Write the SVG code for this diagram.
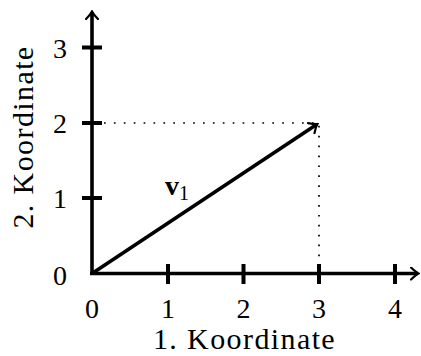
<svg xmlns="http://www.w3.org/2000/svg" width="421" height="356" viewBox="0 0 421 356">
<style>
.t{font-family:"Liberation Serif","DejaVu Serif",serif;font-size:28px;fill:#000;text-anchor:middle}
.ti{font-size:30px;letter-spacing:1.4px}
.ax{stroke:#000;stroke-width:3.6;fill:none}
.tk{stroke:#000;stroke-width:4;fill:none}
.dot{stroke:#000;stroke-width:1.7;fill:none;stroke-dasharray:1.7 8.2}
</style>
<defs>
<marker id="to" viewBox="-8 -7 10 14" markerWidth="10" markerHeight="14" refX="0" refY="0" orient="auto" markerUnits="userSpaceOnUse">
<path d="M-7,-6 Q-2,-1.2 0.5,0 Q-2,1.2 -7,6" stroke="#000" stroke-width="2.2" fill="none" stroke-linecap="round"/>
</marker>
</defs>
<rect width="421" height="356" fill="#fff"/>
<g id="connectors">
<path class="dot" d="M104,123 H319 V268"/>
<line class="ax" x1="90" y1="273.5" x2="418" y2="273.5" marker-end="url(#to)"/>
<line class="ax" x1="92" y1="275" x2="92" y2="12" marker-end="url(#to)"/>
<line class="ax" x1="92" y1="273.5" x2="317" y2="124.3" marker-end="url(#to)"/>
</g>
<g id="ticks">
<path class="tk" d="M82,47.5 H102 M82,123 H102 M82,198 H102 M168,264 V284 M243.5,264 V284 M319,264 V284 M395,264 V284"/>
</g>
<g id="ylabels">
<text class="t" x="60" y="57.5">3</text>
<text class="t" x="60" y="132.5">2</text>
<text class="t" x="60" y="208">1</text>
<text class="t" x="60" y="285">0</text>
</g>
<g id="xlabels">
<text class="t" x="92" y="318">0</text>
<text class="t" x="168" y="318">1</text>
<text class="t" x="243.5" y="318">2</text>
<text class="t" x="319" y="318">3</text>
<text class="t" x="395" y="318">4</text>
</g>
<g id="axis-titles">
<text class="t ti" x="244.5" y="348.5">1. Koordinate</text>
<text class="t ti" transform="translate(33,137) rotate(-90)">2. Koordinate</text>
</g>
<g id="v1">
<text class="t" x="177" y="195"><tspan font-weight="bold">v</tspan><tspan font-size="20" dy="5">1</tspan></text>
</g>
</svg>
